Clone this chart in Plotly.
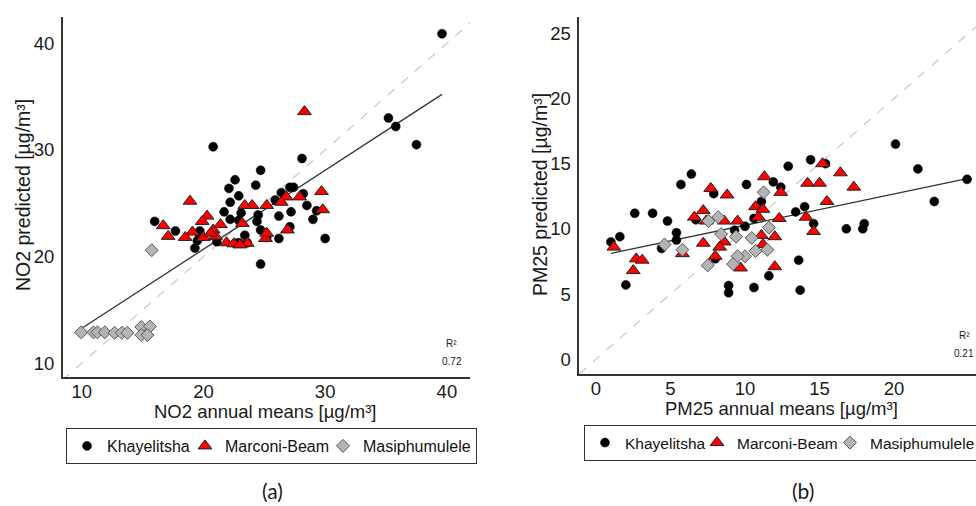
import plotly.graph_objects as go

# ---------------- data ----------------
# Panel (a): NO2
no2_kh_x = [39.6, 35.2, 35.8, 37.5, 20.8, 28.1, 24.7, 22.6, 24.3, 22.1, 22.9, 22.2, 27.1, 27.4, 26.4,
            28.2, 25.9, 28.5, 21.7, 22.2, 22.9, 24.4, 24.5, 26.2, 27.2, 29.3, 29.0, 23.1, 16.0, 17.7,
            19.7, 24.7, 27.1, 23.4, 19.5, 21.1, 26.2, 30.0, 19.3, 24.7, 19.7, 25.2, 22.9, 23.6, 22.6]
no2_kh_y = [40.9, 33.0, 32.2, 30.5, 30.3, 29.2, 28.1, 27.2, 26.7, 26.4, 25.7, 25.1, 26.5, 26.5, 26.0,
            25.9, 25.3, 24.8, 24.2, 23.5, 23.4, 23.3, 23.9, 23.8, 24.2, 24.3, 23.5, 24.1, 23.3, 22.4,
            22.4, 22.5, 22.8, 22.0, 21.5, 21.4, 21.7, 21.7, 20.8, 19.3, 22.0, 21.8, 21.3, 21.3, 21.25]
no2_mb_x = [28.3, 18.9, 29.7, 29.8, 27.9, 26.8, 26.4, 25.2, 24.0, 23.4, 23.2, 20.3, 19.9, 16.7, 19.1,
            17.1, 18.5, 20.0, 20.8, 21.4, 21.0, 21.9, 22.5, 23.6, 25.1, 25.2, 26.9, 23.0, 20.6]
no2_mb_y = [33.6, 25.2, 26.1, 24.4, 25.6, 25.6, 25.1, 24.8, 24.8, 24.8, 23.1, 23.8, 23.3, 22.9, 22.3,
            21.9, 21.8, 21.8, 22.5, 23.0, 21.9, 21.3, 21.2, 21.25, 21.7, 22.2, 22.5, 21.1, 22.2]
no2_ms_x = [15.75, 9.95, 10.96, 11.3, 11.9, 12.7, 13.3, 13.75, 14.9, 15.6, 14.9, 15.4]
no2_ms_y = [20.6, 12.9, 12.9, 12.9, 12.9, 12.85, 12.85, 12.85, 13.4, 13.45, 12.65, 12.65]
no2_slope, no2_intercept, no2_r2 = 0.741, 5.87, "0.72"

# Panel (b): PM25
pm_kh_x = [20.1, 21.6, 22.7, 24.9, 14.4, 15.4, 12.9, 6.4, 5.7, 10.1, 11.9, 12.4, 7.9, 11.1, 13.4,
           14.0, 2.6, 3.8, 4.8, 6.7, 14.6, 16.8, 18.0, 17.9, 1.0, 1.6, 5.4, 5.4, 4.4, 9.3,
           10.0, 10.6, 8.0, 13.6, 11.6, 2.0, 8.9, 8.9, 10.6, 13.7]
pm_kh_y = [16.5, 14.6, 12.1, 13.8, 15.3, 15.0, 14.8, 14.2, 13.4, 13.4, 13.6, 13.2, 12.7, 12.1, 11.3,
           11.7, 11.2, 11.2, 10.6, 10.7, 10.4, 10.0, 10.4, 10.0, 9.0, 9.4, 9.7, 9.15, 8.5, 9.9,
           10.2, 10.8, 7.7, 7.6, 6.4, 5.7, 5.65, 5.1, 5.5, 5.3]
pm_mb_x = [15.2, 16.4, 17.3, 14.2, 15.0, 15.5, 11.3, 12.4, 7.7, 8.8, 7.2, 6.6, 7.4, 8.6, 9.5,
           10.7, 11.2, 10.9, 12.3, 14.1, 14.6, 12.0, 11.1, 11.2, 7.2, 8.6, 8.3, 8.0, 5.8, 1.2,
           2.7, 3.1, 2.5, 9.7, 12.0]
pm_mb_y = [15.0, 14.3, 13.2, 13.5, 13.5, 12.1, 14.0, 12.8, 13.1, 12.6, 11.4, 10.9, 10.6, 10.6, 10.6,
           11.7, 11.5, 10.9, 10.8, 10.9, 9.8, 9.4, 9.5, 8.8, 8.9, 9.0, 8.6, 7.9, 8.1, 8.6,
           7.7, 7.6, 6.8, 7.0, 7.1]
pm_ms_x = [11.25, 8.2, 7.55, 8.4, 9.4, 10.45, 11.6, 11.5, 10.7, 10.0, 9.5, 9.2, 7.5, 5.8, 4.6]
pm_ms_y = [12.8, 10.9, 10.6, 9.6, 9.4, 9.3, 10.1, 8.4, 8.3, 7.9, 7.9, 7.3, 7.2, 8.4, 8.8]
pm_slope, pm_intercept, pm_r2 = 0.24, 7.88, "0.21"

groups = ["Khayelitsha", "Marconi-Beam", "Masiphumulele"]
no2_ticks = [10, 20, 30, 40]
pm_ticks = [0, 5, 10, 15, 20, 25]
no2_range_x, no2_range_y = [8.44, 41.9], [8.74, 42.5]
pm_range_x, pm_range_y = [-1.12, 25.5], [-1.13, 26.27]

# ---------------- styling ----------------
FONT = "Liberation Sans, Arial, sans-serif"
W, H = 976, 506
styles = [
    dict(symbol="circle", size=9, color="black", line=dict(color="black", width=0.5)),
    dict(symbol="triangle-up", size=12, color="#FF0000", line=dict(color="#222222", width=1)),
    dict(symbol="diamond", size=10, color="#B4B4B4", line=dict(color="#5A5A5A", width=1)),
]
# legend entry widths (px) for the first two entries of each legend
legend_widths = {"legend": [73, 93, None], "legend2": [67, 88, None]}

fig = go.Figure()


def add_panel(xs, ys, slope, intercept, rng_x, xa, ya, legend):
    all_x = [v for arr in xs for v in arr]
    fig.add_trace(go.Scatter(x=rng_x, y=rng_x, mode="lines", xaxis=xa, yaxis=ya,
                             line=dict(color="#C8C8C8", width=1.2, dash="dash"),
                             showlegend=False, hoverinfo="skip"))
    x0, x1 = min(all_x), max(all_x)
    fig.add_trace(go.Scatter(x=[x0, x1], y=[intercept + slope * x0, intercept + slope * x1],
                             mode="lines", xaxis=xa, yaxis=ya,
                             line=dict(color="#333333", width=1.3),
                             showlegend=False, hoverinfo="skip"))
    for name, gx, gy, st, lw in zip(groups, xs, ys, styles, legend_widths[legend]):
        tr = go.Scatter(x=gx, y=gy, mode="markers", name=name, xaxis=xa, yaxis=ya,
                        marker=st, legend=legend)
        if lw is not None:
            tr.legendwidth = lw
        fig.add_trace(tr)


add_panel([no2_kh_x, no2_mb_x, no2_ms_x], [no2_kh_y, no2_mb_y, no2_ms_y],
          no2_slope, no2_intercept, no2_range_x, "x", "y", "legend")
add_panel([pm_kh_x, pm_mb_x, pm_ms_x], [pm_kh_y, pm_mb_y, pm_ms_y],
          pm_slope, pm_intercept, pm_range_x, "x2", "y2", "legend2")

axis_common = dict(showline=True, linecolor="#333333", linewidth=1.5, ticks="",
                   showgrid=False, zeroline=False, mirror=False,
                   tickfont=dict(family=FONT, size=18.5, color="#1a1a1a"))


def px(x):
    return x / W


def py(y):
    return 1 - y / H


fig.update_layout(
    width=W, height=H, paper_bgcolor="white", plot_bgcolor="white",
    margin=dict(l=0, r=0, t=0, b=0, autoexpand=False),
    font=dict(family=FONT, color="#1a1a1a"),
    xaxis=dict(domain=[px(62.7), px(470)], range=no2_range_x, tickvals=no2_ticks,
               anchor="y", ticklabelstandoff=-3, **axis_common),
    yaxis=dict(domain=[py(376.7), py(16.7)], range=no2_range_y, tickvals=no2_ticks,
               anchor="x", ticklabelstandoff=3, **axis_common),
    xaxis2=dict(domain=[px(579.3), 1.0], range=pm_range_x, tickvals=pm_ticks,
                anchor="y2", ticklabelstandoff=-3, **axis_common),
    yaxis2=dict(domain=[py(374), py(16.7)], range=pm_range_y, tickvals=pm_ticks,
                anchor="x2", ticklabelstandoff=3, **axis_common),
    legend=dict(orientation="h", x=px(66), xanchor="left", y=py(428), yanchor="top",
                bordercolor="#333333", borderwidth=1, bgcolor="white",
                font=dict(family=FONT, size=16, color="#111111"), itemwidth=30),
    legend2=dict(orientation="h", x=px(584), xanchor="left", y=py(425), yanchor="top",
                 bordercolor="#333333", borderwidth=1, bgcolor="white",
                 font=dict(family=FONT, size=15.5, color="#111111"), itemwidth=30),
)

ann = [
    dict(text="NO2 annual means [µg/m³]", x=px(265), y=py(411), size=18.5),
    dict(text="PM25 annual means [µg/m³]", x=px(781.7), y=py(408), size=18.5),
    dict(text="NO2 predicted [µg/m³]", x=px(23), y=py(195), size=19.5, angle=-90),
    dict(text="PM25 predicted [µg/m³]", x=px(540), y=py(195), size=19.5, angle=-90),
    dict(text="R²", x=px(451.7), y=py(343), size=10),
    dict(text=no2_r2, x=px(451.7), y=py(361.7), size=10),
    dict(text="R²", x=px(964), y=py(335), size=10),
    dict(text=pm_r2, x=px(964), y=py(353), size=10),
    dict(text="(a)", x=px(272), y=py(490), size=21, family="Lato, sans-serif"),
    dict(text="(b)", x=px(803), y=py(490), size=21, family="Lato, sans-serif"),
]
for a in ann:
    fig.add_annotation(text=a["text"], x=a["x"], y=a["y"], xref="paper", yref="paper",
                       xanchor="center", yanchor="middle", showarrow=False,
                       textangle=a.get("angle", 0),
                       font=dict(family=a.get("family", FONT), size=a["size"], color="#1a1a1a"))

fig.write_html("out.html", config={"displayModeBar": False},
               post_script="document.body.style.margin='0px';")
